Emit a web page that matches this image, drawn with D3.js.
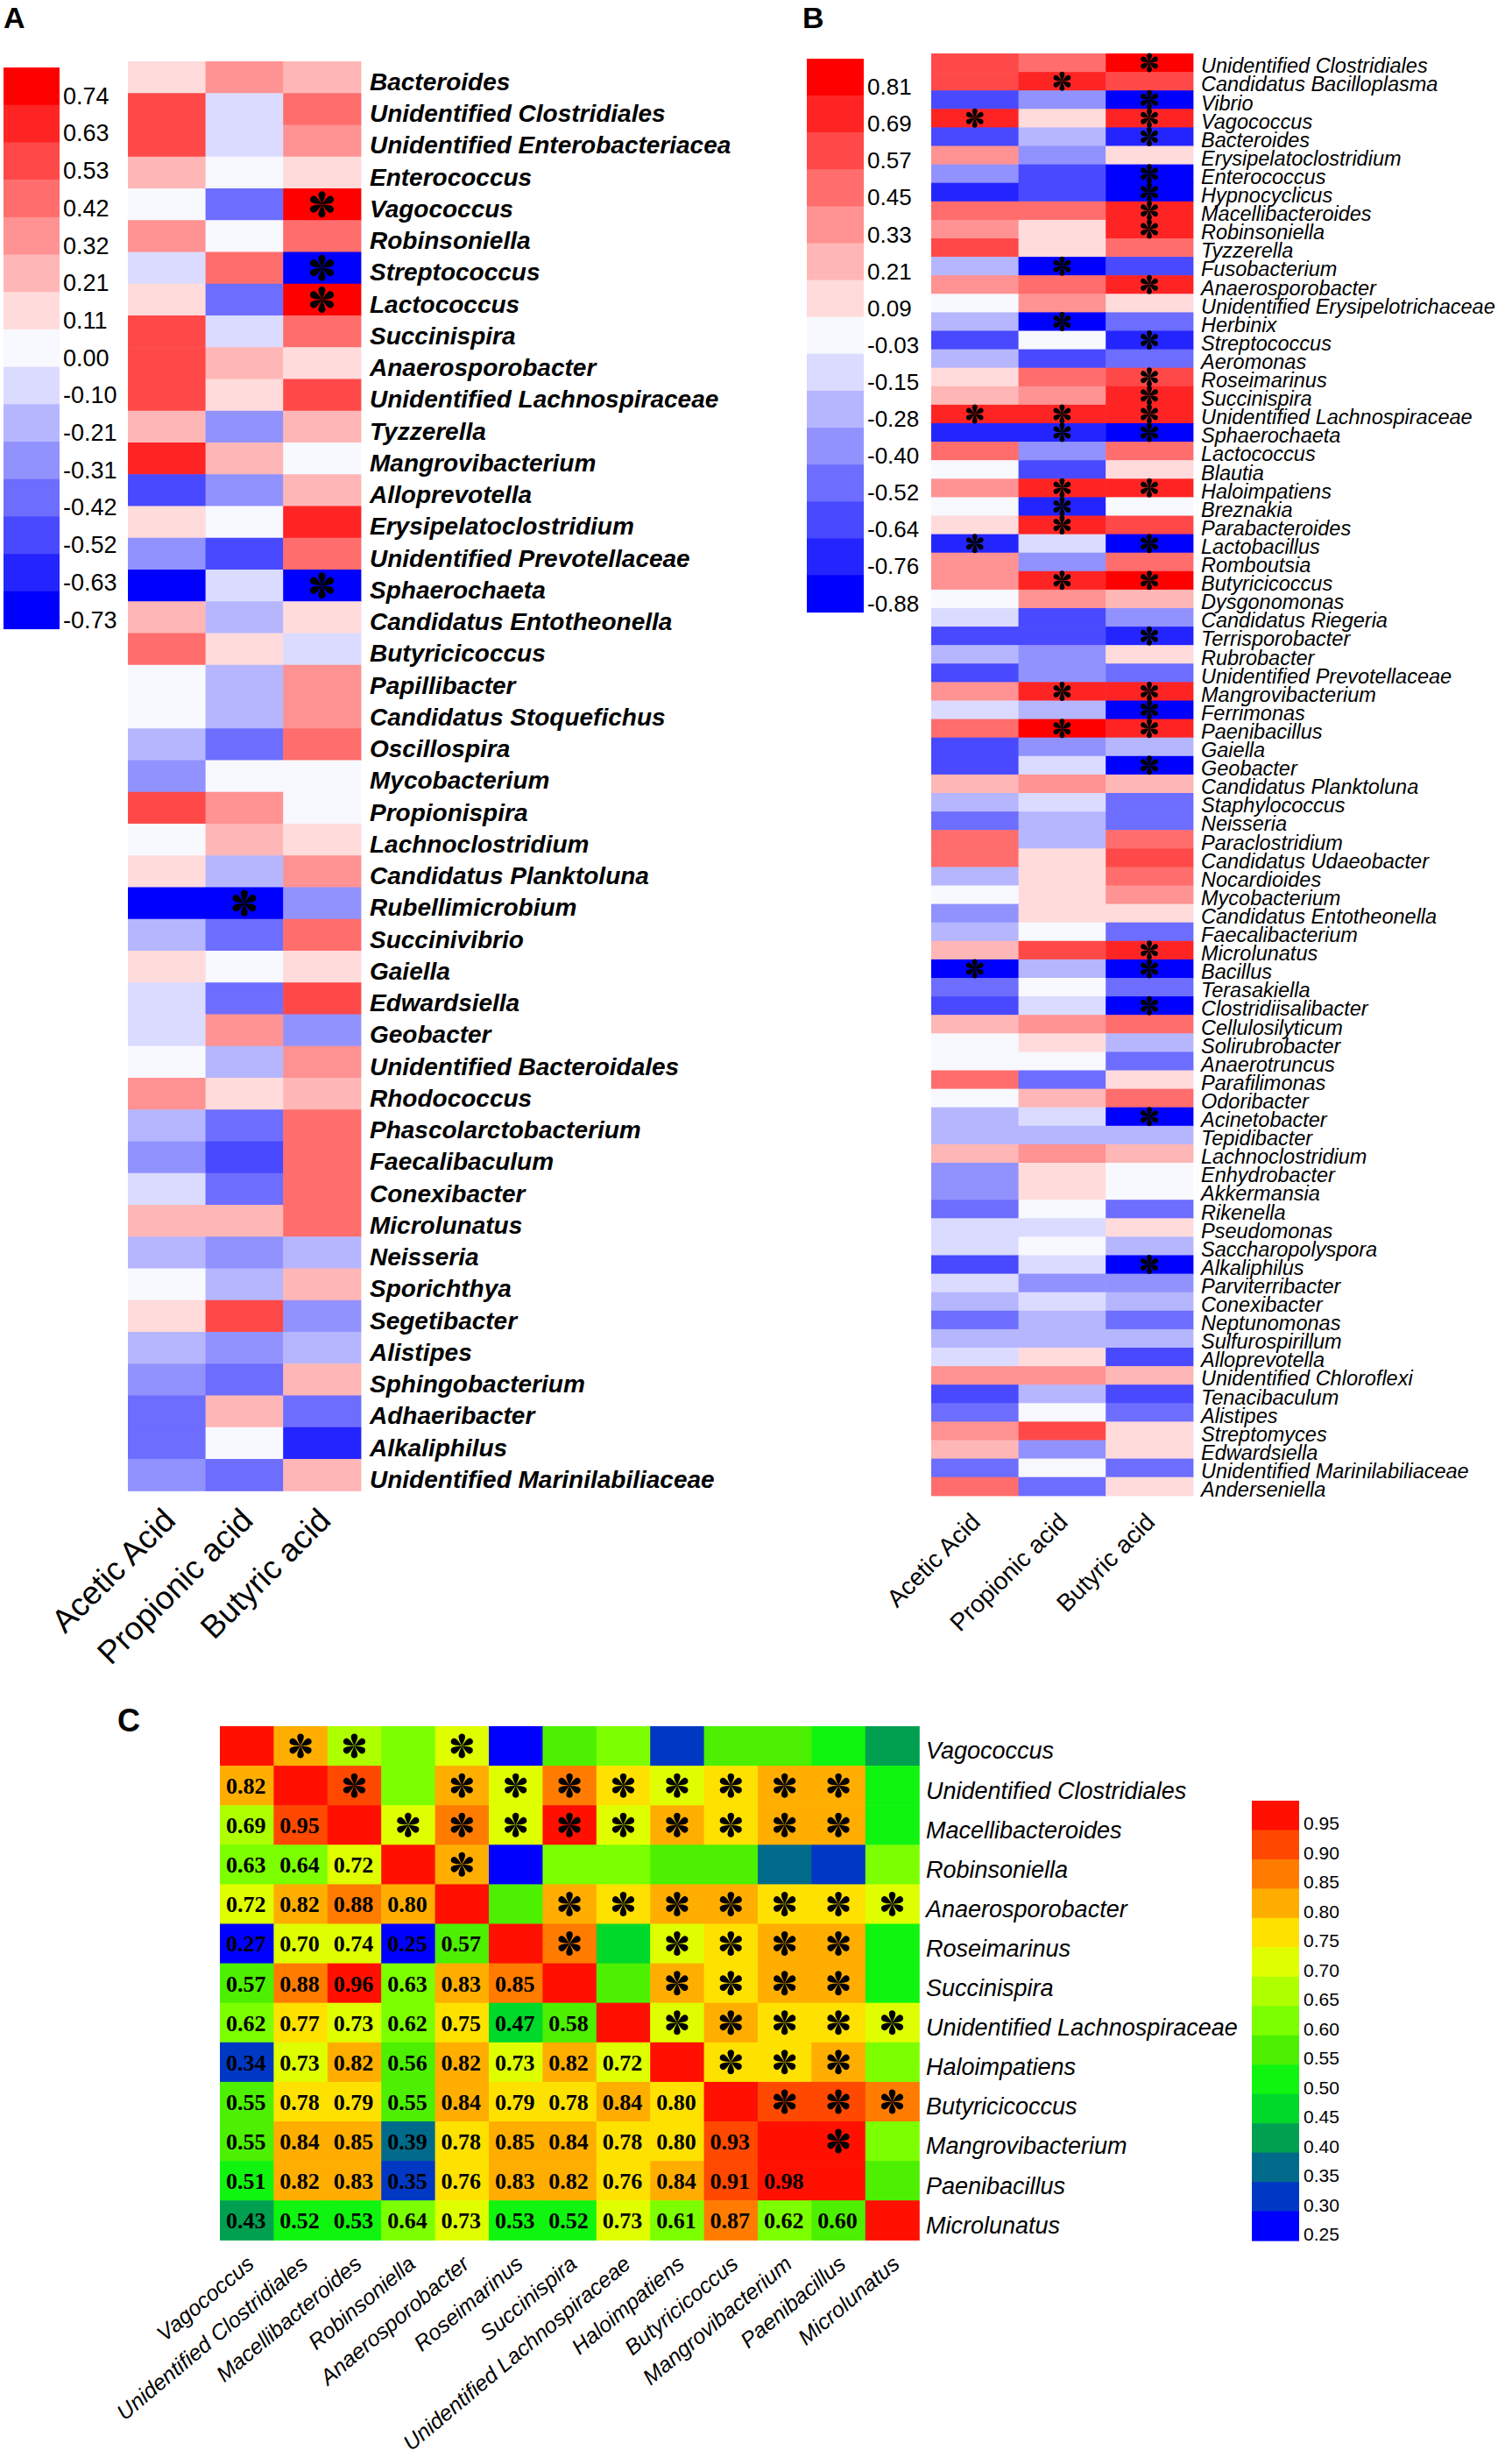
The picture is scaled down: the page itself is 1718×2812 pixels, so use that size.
<!DOCTYPE html>
<html>
<head>
<meta charset="utf-8">
<script src="https://cdn.jsdelivr.net/npm/d3@7"></script>
<style>
    body { margin: 0; background: #fff; }
    svg { display: block; }
    text { font-family: "Liberation Sans", Arial, sans-serif; fill: #000; }
</style>
</head>
<body>
<svg></svg>
<script>
const width = 1718;
const height = 2812;

const acids = ["Acetic Acid", "Propionic acid", "Butyric acid"];

// ---- panel A ----
const taxaA = ["Bacteroides", "Unidentified Clostridiales", "Unidentified Enterobacteriacea", "Enterococcus",
    "Vagococcus", "Robinsoniella", "Streptococcus", "Lactococcus", "Succinispira", "Anaerosporobacter",
    "Unidentified Lachnospiraceae", "Tyzzerella", "Mangrovibacterium", "Alloprevotella", "Erysipelatoclostridium",
    "Unidentified Prevotellaceae", "Sphaerochaeta", "Candidatus Entotheonella", "Butyricicoccus", "Papillibacter",
    "Candidatus Stoquefichus", "Oscillospira", "Mycobacterium", "Propionispira", "Lachnoclostridium",
    "Candidatus Planktoluna", "Rubellimicrobium", "Succinivibrio", "Gaiella", "Edwardsiella", "Geobacter",
    "Unidentified Bacteroidales", "Rhodococcus", "Phascolarctobacterium", "Faecalibaculum", "Conexibacter",
    "Microlunatus", "Neisseria", "Sporichthya", "Segetibacter", "Alistipes", "Sphingobacterium", "Adhaeribacter",
    "Alkaliphilus", "Unidentified Marinilabiliaceae"];
const aceticA = [0.11, 0.53, 0.53, 0.21, 0.00, 0.32, -0.10, 0.11, 0.53, 0.53, 0.53, 0.21, 0.63, -0.52, 0.11,
    -0.31, -0.73, 0.21, 0.42, 0.00, 0.00, -0.21, -0.31, 0.53, 0.00, 0.11, -0.73, -0.21, 0.11, -0.10, -0.10,
    0.00, 0.32, -0.21, -0.31, -0.10, 0.21, -0.21, 0.00, 0.11, -0.21, -0.31, -0.42, -0.42, -0.31];
const propionicA = [0.32, -0.10, -0.10, 0.00, -0.42, 0.00, 0.42, -0.42, -0.10, 0.21, 0.11, -0.31, 0.21, -0.31, 0.00,
    -0.52, -0.10, -0.21, 0.11, -0.21, -0.21, -0.42, 0.00, 0.32, 0.21, -0.21, -0.73, -0.42, 0.00, -0.42, 0.32,
    -0.21, 0.11, -0.42, -0.52, -0.42, 0.21, -0.31, -0.21, 0.53, -0.31, -0.42, 0.21, 0.00, -0.42];
const butyricA = [0.21, 0.42, 0.32, 0.11, 0.74, 0.42, -0.73, 0.74, 0.42, 0.11, 0.53, 0.21, 0.00, 0.21, 0.63,
    0.42, -0.73, 0.11, -0.10, 0.32, 0.32, 0.42, 0.00, 0.00, 0.11, 0.32, -0.31, 0.42, 0.11, 0.53, -0.31,
    0.32, 0.21, 0.42, 0.42, 0.42, 0.42, -0.21, 0.21, -0.31, -0.21, 0.21, -0.42, -0.63, 0.21];
const sigA = [["Vagococcus", "Butyric acid"], ["Streptococcus", "Butyric acid"], ["Lactococcus", "Butyric acid"],
    ["Sphaerochaeta", "Butyric acid"], ["Rubellimicrobium", "Propionic acid"]];
const ticksA = [0.74, 0.63, 0.53, 0.42, 0.32, 0.21, 0.11, 0.00, -0.10, -0.21, -0.31, -0.42, -0.52, -0.63, -0.73];

// ---- panel B ----
const taxaB = ["Unidentified Clostridiales", "Candidatus Bacilloplasma", "Vibrio", "Vagococcus", "Bacteroides",
    "Erysipelatoclostridium", "Enterococcus", "Hypnocyclicus", "Macellibacteroides", "Robinsoniella", "Tyzzerella",
    "Fusobacterium", "Anaerosporobacter", "Unidentified Erysipelotrichaceae", "Herbinix", "Streptococcus",
    "Aeromonas", "Roseimarinus", "Succinispira", "Unidentified Lachnospiraceae", "Sphaerochaeta", "Lactococcus",
    "Blautia", "Haloimpatiens", "Breznakia", "Parabacteroides", "Lactobacillus", "Romboutsia", "Butyricicoccus",
    "Dysgonomonas", "Candidatus Riegeria", "Terrisporobacter", "Rubrobacter", "Unidentified Prevotellaceae",
    "Mangrovibacterium", "Ferrimonas", "Paenibacillus", "Gaiella", "Geobacter", "Candidatus Planktoluna",
    "Staphylococcus", "Neisseria", "Paraclostridium", "Candidatus Udaeobacter", "Nocardioides", "Mycobacterium",
    "Candidatus Entotheonella", "Faecalibacterium", "Microlunatus", "Bacillus", "Terasakiella",
    "Clostridiisalibacter", "Cellulosilyticum", "Solirubrobacter", "Anaerotruncus", "Parafilimonas", "Odoribacter",
    "Acinetobacter", "Tepidibacter", "Lachnoclostridium", "Enhydrobacter", "Akkermansia", "Rikenella",
    "Pseudomonas", "Saccharopolyspora", "Alkaliphilus", "Parviterribacter", "Conexibacter", "Neptunomonas",
    "Sulfurospirillum", "Alloprevotella", "Unidentified Chloroflexi", "Tenacibaculum", "Alistipes", "Streptomyces",
    "Edwardsiella", "Unidentified Marinilabiliaceae", "Anderseniella"];
const aceticB = [0.57, 0.57, -0.64, 0.69, -0.64, 0.33, -0.40, -0.76, 0.45, 0.33,
    0.57, -0.28, 0.33, -0.03, -0.28, -0.64, -0.28, 0.09, 0.21, 0.69,
    -0.76, 0.45, -0.03, 0.33, -0.03, 0.09, -0.76, 0.33, 0.33, -0.03,
    -0.15, -0.64, -0.28, -0.64, 0.33, -0.15, 0.45, -0.64, -0.64, 0.21,
    -0.28, -0.52, 0.45, 0.45, -0.28, -0.03, -0.40, -0.28, 0.21, -0.88,
    -0.52, -0.64, 0.21, -0.03, -0.03, 0.45, -0.03, -0.28, -0.28, 0.21,
    -0.40, -0.40, -0.52, -0.15, -0.15, -0.64, -0.15, -0.28, -0.52, -0.28,
    -0.15, 0.33, -0.64, -0.52, 0.33, 0.21, -0.52, 0.45];
const propionicB = [0.45, 0.69, -0.40, 0.09, -0.28, -0.40, -0.64, -0.64, 0.45, 0.09,
    0.09, -0.88, 0.45, 0.33, -0.88, -0.03, -0.64, 0.45, 0.33, 0.69,
    -0.76, -0.40, -0.64, 0.69, -0.76, 0.69, -0.15, -0.40, 0.69, 0.33,
    -0.64, -0.64, -0.40, -0.40, 0.69, -0.28, 0.81, -0.40, -0.15, 0.33,
    -0.15, -0.28, -0.28, 0.09, 0.09, 0.09, 0.09, -0.03, 0.57, -0.28,
    -0.03, -0.15, 0.33, 0.09, -0.03, -0.52, 0.21, -0.15, -0.28, 0.33,
    0.09, 0.09, -0.03, -0.15, -0.03, -0.15, -0.40, -0.15, -0.28, -0.28,
    0.09, 0.33, -0.28, -0.03, 0.57, -0.40, -0.03, -0.52];
const butyricB = [0.81, 0.57, -0.88, 0.69, -0.76, 0.09, -0.88, -0.88, 0.69, 0.69,
    0.45, -0.64, 0.69, 0.09, -0.52, -0.76, -0.52, 0.57, 0.69, 0.69,
    -0.88, 0.45, 0.09, 0.69, -0.03, 0.57, -0.88, 0.45, 0.81, 0.21,
    -0.40, -0.76, 0.09, -0.52, 0.69, -0.88, 0.69, -0.28, -0.88, 0.21,
    -0.52, -0.52, 0.45, 0.57, 0.45, 0.33, 0.09, -0.52, 0.69, -0.88,
    -0.52, -0.88, 0.45, -0.28, -0.52, 0.09, 0.45, -0.88, -0.28, 0.21,
    -0.03, -0.03, -0.52, 0.09, -0.28, -0.88, -0.40, -0.28, -0.52, -0.28,
    -0.64, 0.21, -0.64, -0.52, 0.09, 0.09, -0.52, 0.09];
const sigB = [["Unidentified Clostridiales", "Butyric acid"], ["Candidatus Bacilloplasma", "Propionic acid"],
    ["Vibrio", "Butyric acid"], ["Vagococcus", "Acetic Acid"], ["Vagococcus", "Butyric acid"],
    ["Bacteroides", "Butyric acid"], ["Enterococcus", "Butyric acid"], ["Hypnocyclicus", "Butyric acid"],
    ["Macellibacteroides", "Butyric acid"], ["Robinsoniella", "Butyric acid"], ["Fusobacterium", "Propionic acid"],
    ["Anaerosporobacter", "Butyric acid"], ["Herbinix", "Propionic acid"], ["Streptococcus", "Butyric acid"],
    ["Roseimarinus", "Butyric acid"], ["Succinispira", "Butyric acid"],
    ["Unidentified Lachnospiraceae", "Acetic Acid"], ["Unidentified Lachnospiraceae", "Propionic acid"],
    ["Unidentified Lachnospiraceae", "Butyric acid"], ["Sphaerochaeta", "Propionic acid"],
    ["Sphaerochaeta", "Butyric acid"], ["Haloimpatiens", "Propionic acid"], ["Haloimpatiens", "Butyric acid"],
    ["Breznakia", "Propionic acid"], ["Parabacteroides", "Propionic acid"], ["Lactobacillus", "Acetic Acid"],
    ["Lactobacillus", "Butyric acid"], ["Butyricicoccus", "Propionic acid"], ["Butyricicoccus", "Butyric acid"],
    ["Terrisporobacter", "Butyric acid"], ["Mangrovibacterium", "Propionic acid"],
    ["Mangrovibacterium", "Butyric acid"], ["Ferrimonas", "Butyric acid"], ["Paenibacillus", "Propionic acid"],
    ["Paenibacillus", "Butyric acid"], ["Geobacter", "Butyric acid"], ["Microlunatus", "Butyric acid"],
    ["Bacillus", "Acetic Acid"], ["Bacillus", "Butyric acid"], ["Clostridiisalibacter", "Butyric acid"],
    ["Acinetobacter", "Butyric acid"], ["Alkaliphilus", "Butyric acid"]];
const ticksB = [0.81, 0.69, 0.57, 0.45, 0.33, 0.21, 0.09, -0.03, -0.15, -0.28, -0.40, -0.52, -0.64, -0.76, -0.88];

// ---- panel C ----
const taxaC = ["Vagococcus", "Unidentified Clostridiales", "Macellibacteroides", "Robinsoniella",
    "Anaerosporobacter", "Roseimarinus", "Succinispira", "Unidentified Lachnospiraceae", "Haloimpatiens",
    "Butyricicoccus", "Mangrovibacterium", "Paenibacillus", "Microlunatus"];
// lower triangle, row i holds the correlations with taxa 0..i-1
const corrC = [
    [],
    [0.82],
    [0.69, 0.948],
    [0.63, 0.64, 0.72],
    [0.72, 0.82, 0.88, 0.80],
    [0.27, 0.70, 0.74, 0.25, 0.57],
    [0.57, 0.88, 0.96, 0.63, 0.83, 0.85],
    [0.62, 0.77, 0.73, 0.62, 0.75, 0.47, 0.58],
    [0.34, 0.73, 0.82, 0.56, 0.82, 0.73, 0.82, 0.72],
    [0.55, 0.78, 0.79, 0.55, 0.84, 0.79, 0.78, 0.84, 0.797],
    [0.55, 0.84, 0.848, 0.39, 0.78, 0.848, 0.84, 0.78, 0.797, 0.93],
    [0.51, 0.82, 0.83, 0.348, 0.76, 0.83, 0.82, 0.76, 0.84, 0.91, 0.98],
    [0.43, 0.52, 0.53, 0.64, 0.73, 0.53, 0.52, 0.73, 0.61, 0.87, 0.62, 0.598]
];
const sigC = [[0, 1], [0, 2], [0, 4],
    [1, 2], [1, 4], [1, 5], [1, 6], [1, 7], [1, 8], [1, 9], [1, 10], [1, 11],
    [2, 3], [2, 4], [2, 5], [2, 6], [2, 7], [2, 8], [2, 9], [2, 10], [2, 11],
    [3, 4],
    [4, 6], [4, 7], [4, 8], [4, 9], [4, 10], [4, 11], [4, 12],
    [5, 6], [5, 8], [5, 9], [5, 10], [5, 11],
    [6, 8], [6, 9], [6, 10], [6, 11],
    [7, 8], [7, 9], [7, 10], [7, 11], [7, 12],
    [8, 9], [8, 10], [8, 11],
    [9, 10], [9, 11], [9, 12],
    [10, 11]];
const ticksC = [0.95, 0.90, 0.85, 0.80, 0.75, 0.70, 0.65, 0.60, 0.55, 0.50, 0.45, 0.40, 0.35, 0.30, 0.25];

const blueWhiteRed = ["#0000FF", "#2424FF", "#4949FF", "#6D6DFF", "#9292FF", "#B6B6FF", "#DBDBFF", "#F8F8FF",
    "#FFDBDB", "#FFB6B6", "#FF9292", "#FF6D6D", "#FF4949", "#FF2424", "#FF0000"];
const rainbow = ["#0000FF", "#0038C4", "#006A8A", "#00A050", "#00D82A", "#10F510", "#4CF000", "#7CFF00",
    "#AEFF00", "#DFFF00", "#FFE100", "#FFAE00", "#FF7C00", "#FF4800", "#FF1000"];

const svg = d3.select("svg")
    .attr("width", width)
    .attr("height", height);

svg.append("rect")
    .attr("width", width)
    .attr("height", height)
    .attr("fill", "#fff");

// six teardrop petals, like the asterisk in the original
function asterisk(r) {
    const p = d3.path();
    const shape = [[-0.14, -0.35], [-0.52, -0.92], [0, -1], [0.52, -0.92], [0.14, -0.35]];
    for (let k = 0; k < 6; k++) {
        const a = k * Math.PI / 3;
        const pts = shape.map(([u, v]) => [(u * Math.cos(a) - v * Math.sin(a)) * r, (u * Math.sin(a) + v * Math.cos(a)) * r]);
        p.moveTo(0, 0);
        p.bezierCurveTo(pts[0][0], pts[0][1], pts[1][0], pts[1][1], pts[2][0], pts[2][1]);
        p.bezierCurveTo(pts[3][0], pts[3][1], pts[4][0], pts[4][1], 0, 0);
        p.closePath();
    }
    return p.toString();
}

function acidPanel(cfg) {
    const g = svg.append("g");
    const n = cfg.taxa.length;

    const x = d3.scaleBand().domain(acids).range([cfg.x0, cfg.x0 + 3 * cfg.cellW]);
    const y = d3.scaleBand().domain(cfg.taxa).range([cfg.y0, cfg.y0 + n * cfg.cellH]);

    const step = (cfg.ticks[0] - cfg.ticks[cfg.ticks.length - 1]) / (cfg.ticks.length - 1);
    const color = d3.scaleQuantize()
        .domain([d3.min(cfg.ticks) - step / 2, d3.max(cfg.ticks) + step / 2])
        .range(blueWhiteRed);

    const cells = cfg.taxa.flatMap((t, i) => acids.map((a, j) => ({ taxon: t, acid: a, v: cfg.values[j][i] })));

    g.selectAll("rect.cell")
        .data(cells)
        .enter()
        .append("rect")
        .attr("class", "cell")
        .attr("x", d => x(d.acid))
        .attr("y", d => y(d.taxon))
        .attr("width", x.bandwidth() + 0.6)
        .attr("height", y.bandwidth() + 0.6)
        .attr("fill", d => color(d.v));

    g.selectAll("path.star")
        .data(cfg.sig)
        .enter()
        .append("path")
        .attr("d", asterisk(cfg.starR))
        .attr("fill", "#000")
        .attr("transform", d => `translate(${x(d[1]) + x.bandwidth() / 2},${y(d[0]) + y.bandwidth() / 2})`);

    g.selectAll("text.taxon")
        .data(cfg.taxa)
        .enter()
        .append("text")
        .attr("x", cfg.labelX)
        .attr("y", d => y(d) + y.bandwidth() / 2)
        .attr("dy", cfg.labelDy)
        .style("font-size", cfg.labelSize + "px")
        .style("font-style", "italic")
        .style("font-weight", cfg.labelWeight)
        .text(d => d);

    const bottom = cfg.y0 + n * cfg.cellH;
    g.selectAll("text.acid")
        .data(acids)
        .enter()
        .append("text")
        .attr("text-anchor", "end")
        .attr("transform", d => `translate(${x(d) + x.bandwidth() / 2 + cfg.acidDx},${bottom + cfg.acidDy}) rotate(-45)`)
        .style("font-size", cfg.acidSize + "px")
        .text(d => d);

    // legend
    const ly = d3.scaleBand().domain(d3.range(cfg.ticks.length)).range([cfg.legY0, cfg.legY0 + cfg.ticks.length * cfg.legH]);
    g.selectAll("rect.leg")
        .data(cfg.ticks)
        .enter()
        .append("rect")
        .attr("x", cfg.legX)
        .attr("y", (d, i) => ly(i))
        .attr("width", cfg.legW)
        .attr("height", ly.bandwidth() + 0.6)
        .attr("fill", d => color(d));

    g.selectAll("text.leg")
        .data(cfg.ticks)
        .enter()
        .append("text")
        .attr("x", cfg.legX + cfg.legW + 4)
        .attr("y", (d, i) => ly(i) + ly.bandwidth() - 1)
        .style("font-size", cfg.legSize + "px")
        .text(d => d.toFixed(2));

    g.append("text")
        .attr("x", cfg.letterX)
        .attr("y", 32)
        .style("font-size", "34px")
        .style("font-weight", 700)
        .text(cfg.letter);
}

acidPanel({
    letter: "A", letterX: 4,
    taxa: taxaA, values: [aceticA, propionicA, butyricA], sig: sigA, ticks: ticksA,
    x0: 146, cellW: 88.6, y0: 70, cellH: 36.25,
    labelX: 422, labelSize: 28, labelWeight: 700, labelDy: "0.53em",
    acidSize: 37, acidDx: 12, acidDy: 36,
    legX: 4, legW: 64, legY0: 77, legH: 42.7, legSize: 27,
    starR: 15
});

acidPanel({
    letter: "B", letterX: 916,
    taxa: taxaB, values: [aceticB, propionicB, butyricB], sig: sigB, ticks: ticksB,
    x0: 1063, cellW: 99.6, y0: 61, cellH: 21.1,
    labelX: 1371, labelSize: 23.5, labelWeight: 400, labelDy: "0.5em",
    acidSize: 28, acidDx: 8, acidDy: 32,
    legX: 921, legW: 65, legY0: 67, legH: 42.1, legSize: 26,
    starR: 11
});

// ---- panel C: correlation matrix ----
const gC = svg.append("g");
const cellWC = 61.4;
const cellHC = 45.1;
const xC = d3.scaleBand().domain(taxaC).range([251, 251 + taxaC.length * cellWC]);
const yC = d3.scaleBand().domain(taxaC).range([1970, 1970 + taxaC.length * cellHC]);
const colorC = d3.scaleThreshold().domain(ticksC.slice(0, -1).reverse()).range(rainbow);

const cellsC = taxaC.flatMap((r, i) => taxaC.map((c, j) => ({
    r, c, i, j,
    v: i === j ? 1 : (i > j ? corrC[i][j] : corrC[j][i])
})));

gC.selectAll("rect.cell")
    .data(cellsC)
    .enter()
    .append("rect")
    .attr("x", d => xC(d.c))
    .attr("y", d => yC(d.r))
    .attr("width", xC.bandwidth() + 0.6)
    .attr("height", yC.bandwidth() + 0.6)
    .attr("fill", d => colorC(d.v));

gC.selectAll("text.val")
    .data(cellsC.filter(d => d.i > d.j))
    .enter()
    .append("text")
    .attr("x", d => xC(d.c) + xC.bandwidth() / 2 - 1)
    .attr("y", d => yC(d.r) + yC.bandwidth() / 2)
    .attr("dy", "0.36em")
    .attr("text-anchor", "middle")
    .style("font-family", "'Liberation Serif', 'Times New Roman', serif")
    .style("font-weight", 700)
    .style("font-size", "26px")
    .text(d => d.v.toFixed(2));

gC.selectAll("path.star")
    .data(sigC)
    .enter()
    .append("path")
    .attr("d", asterisk(14))
    .attr("fill", "#000")
    .attr("transform", d => `translate(${xC(taxaC[d[1]]) + xC.bandwidth() / 2},${yC(taxaC[d[0]]) + yC.bandwidth() / 2})`);

gC.selectAll("text.row")
    .data(taxaC)
    .enter()
    .append("text")
    .attr("x", 1057)
    .attr("y", d => yC(d) + yC.bandwidth() / 2)
    .attr("dy", "0.55em")
    .style("font-size", "27px")
    .style("font-style", "italic")
    .text(d => d);

const bottomC = 1970 + taxaC.length * cellHC;
gC.selectAll("text.col")
    .data(taxaC)
    .enter()
    .append("text")
    .attr("text-anchor", "end")
    .attr("transform", d => `translate(${xC(d) + xC.bandwidth() / 2 + 10},${bottomC + 30}) rotate(-40)`)
    .style("font-size", "25px")
    .style("font-style", "italic")
    .text(d => d);

const legYC = d3.scaleBand().domain(d3.range(ticksC.length)).range([2055, 2557]);
gC.selectAll("rect.leg")
    .data(ticksC)
    .enter()
    .append("rect")
    .attr("x", 1429)
    .attr("y", (d, i) => legYC(i))
    .attr("width", 54)
    .attr("height", legYC.bandwidth() + 0.6)
    .attr("fill", d => colorC(d));

gC.selectAll("text.leg")
    .data(ticksC)
    .enter()
    .append("text")
    .attr("x", 1488)
    .attr("y", (d, i) => legYC(i) + legYC.bandwidth())
    .style("font-size", "21px")
    .text(d => d.toFixed(2));

gC.append("text")
    .attr("x", 134)
    .attr("y", 1976)
    .style("font-size", "36px")
    .style("font-weight", 700)
    .text("C");
</script>
</body>
</html>
